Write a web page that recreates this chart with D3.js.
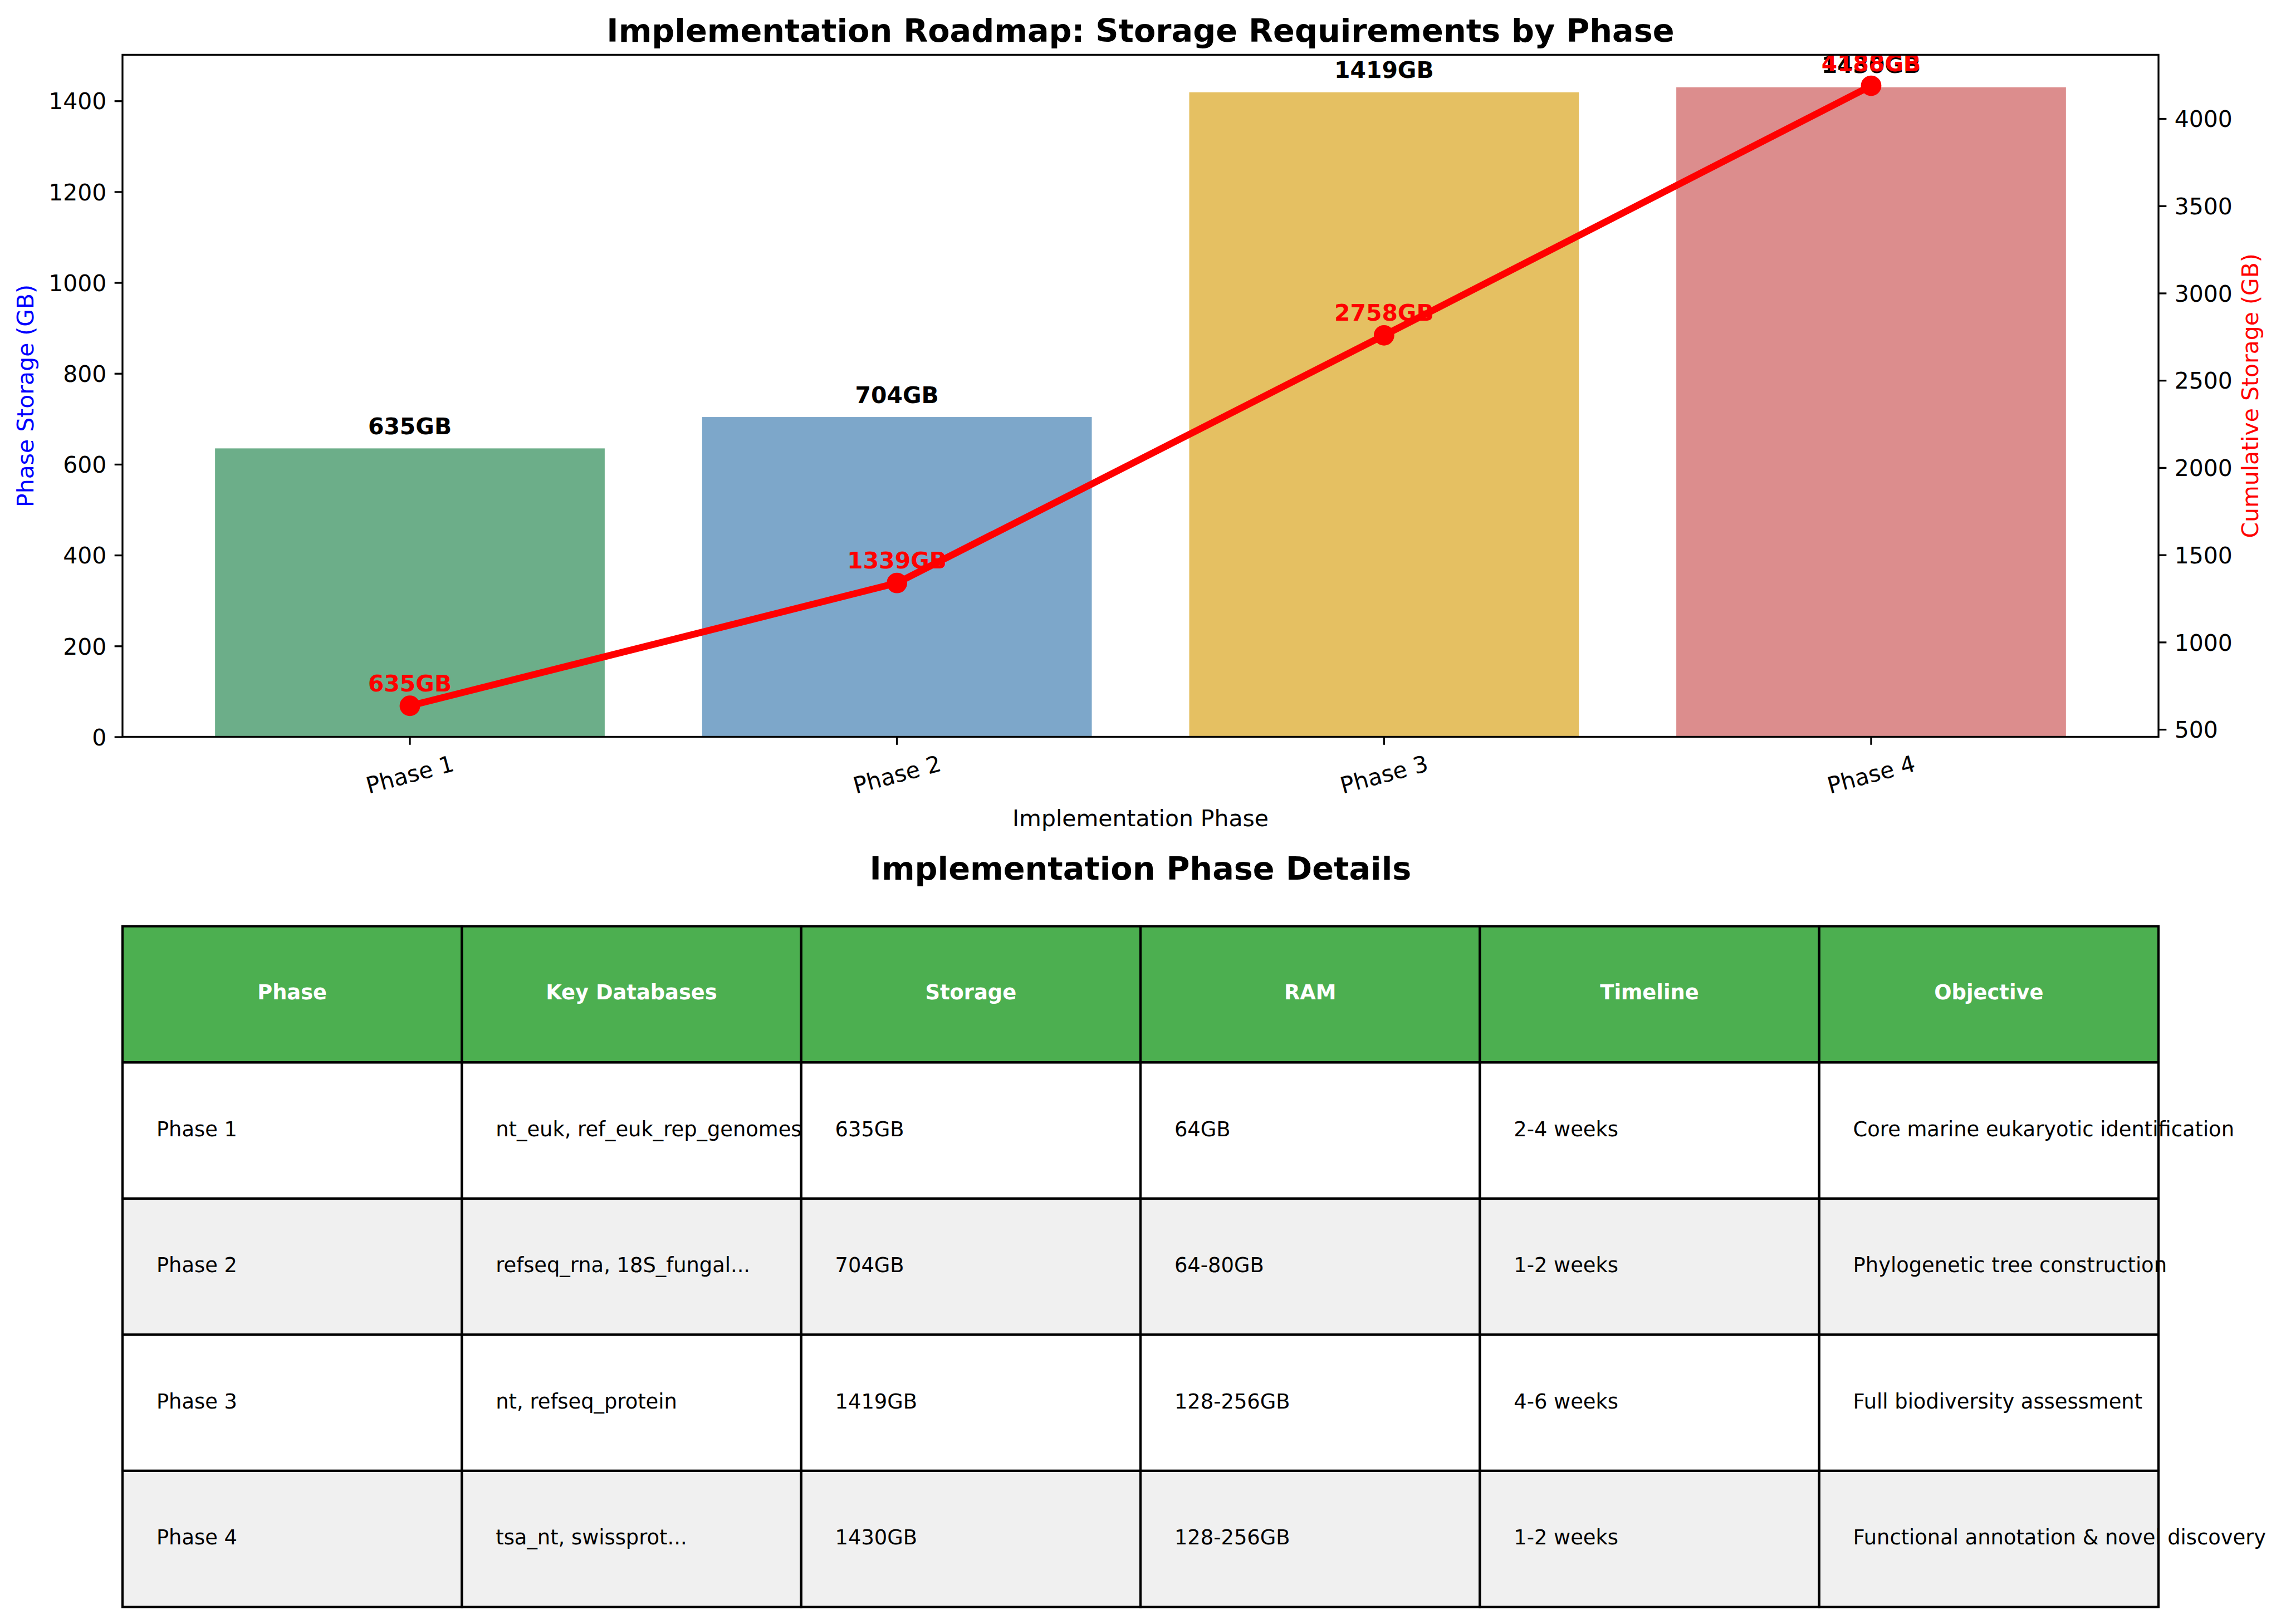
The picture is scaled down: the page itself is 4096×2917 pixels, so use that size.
<!DOCTYPE html>
<html>
<head>
<meta charset="utf-8">
<script src="https://cdn.jsdelivr.net/npm/d3@7"></script>
<style>
  html, body { margin: 0; padding: 0; background: #ffffff; }
  svg { display: block; }
  text { font-family: "DejaVu Sans", sans-serif; }
</style>
</head>
<body>
<script>
// ---------------- data ----------------
const phases = ["Phase 1", "Phase 2", "Phase 3", "Phase 4"];
const phaseStorage = [635, 704, 1419, 1430];
const cumulativeStorage = [635, 1339, 2758, 4188];
const barColors = ["#2E8B57", "#4682B4", "#DAA520", "#CD5C5C"];
const leftTicks = [0, 200, 400, 600, 800, 1000, 1200, 1400];
const rightTicks = [500, 1000, 1500, 2000, 2500, 3000, 3500, 4000];

const tableHeaders = ["Phase", "Key Databases", "Storage", "RAM", "Timeline", "Objective"];
const keyDatabases = ["nt_euk, ref_euk_rep_genomes", "refseq_rna, 18S_fungal...", "nt, refseq_protein", "tsa_nt, swissprot..."];
const storageLabels = ["635GB", "704GB", "1419GB", "1430GB"];
const ramLabels = ["64GB", "64-80GB", "128-256GB", "128-256GB"];
const timelines = ["2-4 weeks", "1-2 weeks", "4-6 weeks", "1-2 weeks"];
const objectives = ["Core marine eukaryotic identification", "Phylogenetic tree construction", "Full biodiversity assessment", "Functional annotation & novel discovery"];

// ---------------- layout (reference pixel units) ----------------
const W = 4171, H = 2970;
const PT = 300 / 72;
const fs10 = 10 * PT, fs14 = 14 * PT, fs9 = 9 * PT;
const axL = 224, axR = 3947, axT = 100, axB = 1347.5;
const tickLen = 3.5 * PT, tickPad = 3.5 * PT, spineW = 0.8 * PT;

const svg = d3.select("body").append("svg")
  .attr("width", 4096).attr("height", 2917)
  .attr("viewBox", `0 0 ${W} ${H}`);
svg.append("rect").attr("width", W).attr("height", H).attr("fill", "#fff");

// scales
const x = d3.scaleBand().domain(phases).range([axL, axR]).paddingInner(0.2).paddingOuter(0.19);
const yL = d3.scaleLinear().domain([0, 1501.5]).range([axB, axT]);
const cMin = d3.min(cumulativeStorage), cMax = d3.max(cumulativeStorage);
const cPad = (cMax - cMin) * 0.05;
const yR = d3.scaleLinear().domain([cMin - cPad, cMax + cPad]).range([axB, axT]);

// bars
const data = phases.map((p, i) => ({ p, v: phaseStorage[i], c: cumulativeStorage[i], col: barColors[i] }));
svg.append("g").selectAll("rect").data(data).join("rect")
  .attr("x", d => x(d.p)).attr("width", x.bandwidth())
  .attr("y", d => yL(d.v)).attr("height", d => yL(0) - yL(d.v))
  .attr("fill", d => d.col).attr("fill-opacity", 0.7);

// bar labels
svg.append("g").selectAll("text").data(data).join("text")
  .attr("x", d => x(d.p) + x.bandwidth() / 2)
  .attr("y", d => yL(d.v) - 26)
  .attr("text-anchor", "middle").attr("font-size", fs10).attr("font-weight", "bold")
  .attr("fill", "#000").text(d => d.v + "GB");

// left axis
const gL = svg.append("g").attr("transform", `translate(${axL},0)`)
  .call(d3.axisLeft(yL).tickValues(leftTicks).tickSize(tickLen).tickPadding(tickPad).tickFormat(d3.format("d")));
gL.select(".domain").remove();
gL.selectAll(".tick line").attr("stroke", "#000").attr("stroke-width", spineW);
gL.selectAll(".tick text").attr("font-size", fs10).attr("fill", "#000")
  .attr("font-family", "DejaVu Sans").attr("dy", "0.36em");

// x axis
const gX = svg.append("g").attr("transform", `translate(0,${axB})`)
  .call(d3.axisBottom(x).tickSize(tickLen).tickFormat(""));
gX.select(".domain").remove();
gX.selectAll(".tick line").attr("stroke", "#000").attr("stroke-width", spineW);
svg.append("g").selectAll("g").data(phases).join("g")
  .attr("transform", d => `translate(${x(d) + x.bandwidth() / 2},1416) rotate(-15)`)
  .append("text").attr("text-anchor", "middle").attr("dy", "0.36em")
  .attr("font-size", fs10).attr("fill", "#000").text(d => d);

// right axis
const gR = svg.append("g").attr("transform", `translate(${axR},0)`)
  .call(d3.axisRight(yR).tickValues(rightTicks).tickSize(tickLen).tickPadding(tickPad).tickFormat(d3.format("d")));
gR.select(".domain").remove();
gR.selectAll(".tick line").attr("stroke", "#000").attr("stroke-width", spineW);
gR.selectAll(".tick text").attr("font-size", fs10).attr("fill", "#000")
  .attr("font-family", "DejaVu Sans").attr("dy", "0.36em");

// cumulative line
const line = d3.line().x(d => x(d.p) + x.bandwidth() / 2).y(d => yR(d.c));
svg.append("path").datum(data).attr("d", line)
  .attr("fill", "none").attr("stroke", "#ff0000").attr("stroke-width", 3 * PT)
  .attr("stroke-linejoin", "round").attr("stroke-linecap", "butt");
svg.append("g").selectAll("circle").data(data).join("circle")
  .attr("cx", d => x(d.p) + x.bandwidth() / 2).attr("cy", d => yR(d.c))
  .attr("r", 4 * PT).attr("fill", "#ff0000").attr("stroke", "#ff0000").attr("stroke-width", PT);
svg.append("g").selectAll("text").data(data).join("text")
  .attr("x", d => x(d.p) + x.bandwidth() / 2)
  .attr("y", d => yR(d.c) - 26.3)
  .attr("text-anchor", "middle").attr("font-size", fs10).attr("font-weight", "bold")
  .attr("fill", "#ff0000").text(d => d.c + "GB");

// spines
svg.append("rect").attr("x", axL).attr("y", axT).attr("width", axR - axL).attr("height", axB - axT)
  .attr("fill", "none").attr("stroke", "#000").attr("stroke-width", spineW);

// axis labels & title
svg.append("text").attr("transform", `translate(61.5,${(axT + axB) / 2}) rotate(-90)`)
  .attr("text-anchor", "middle").attr("font-size", fs10).attr("fill", "#0000ff").text("Phase Storage (GB)");
svg.append("text").attr("transform", `translate(4129.5,${(axT + axB) / 2}) rotate(-90)`)
  .attr("text-anchor", "middle").attr("font-size", fs10).attr("fill", "#ff0000").text("Cumulative Storage (GB)");
svg.append("text").attr("x", (axL + axR) / 2).attr("y", 1510.5)
  .attr("text-anchor", "middle").attr("font-size", fs10).attr("fill", "#000").text("Implementation Phase");
svg.append("text").attr("x", (axL + axR) / 2).attr("y", 76.5)
  .attr("text-anchor", "middle").attr("font-size", fs14).attr("font-weight", "bold").attr("fill", "#000")
  .text("Implementation Roadmap: Storage Requirements by Phase");

// ---------------- table ----------------
svg.append("text").attr("x", (axL + axR) / 2).attr("y", 1609)
  .attr("text-anchor", "middle").attr("font-size", fs14).attr("font-weight", "bold").attr("fill", "#000")
  .text("Implementation Phase Details");

const rows = phases.map((p, i) => [p, keyDatabases[i], storageLabels[i], ramLabels[i], timelines[i], objectives[i]]);
const tT = 1694, tB = 2939;
const colX = d3.scaleBand().domain(d3.range(tableHeaders.length)).range([axL, axR]);
const rowY = d3.scaleBand().domain(d3.range(rows.length + 1)).range([tT, tB]);
const cw = colX.bandwidth(), rh = rowY.bandwidth();
const tg = svg.append("g");

// fills
tableHeaders.forEach((h, j) => {
  tg.append("rect").attr("x", colX(j)).attr("y", rowY(0)).attr("width", cw).attr("height", rh).attr("fill", "#4CAF50");
});
rows.forEach((r, i) => r.forEach((c, j) => {
  tg.append("rect").attr("x", colX(j)).attr("y", rowY(i + 1)).attr("width", cw).attr("height", rh)
    .attr("fill", i % 2 === 1 ? "#f0f0f0" : "#ffffff");
}));
// texts
tableHeaders.forEach((h, j) => {
  tg.append("text").attr("x", colX(j) + cw / 2).attr("y", rowY(0) + rh / 2 + 9.5)
    .attr("text-anchor", "middle").attr("font-size", fs9).attr("font-weight", "bold").attr("fill", "#ffffff").text(h);
});
rows.forEach((r, i) => r.forEach((c, j) => {
  tg.append("text").attr("x", colX(j) + cw * 0.1).attr("y", rowY(i + 1) + rh / 2 + 10.5)
    .attr("font-size", fs9).attr("fill", "#000").text(c);
}));
// borders
for (let i = 0; i <= rows.length; i++) for (let j = 0; j < tableHeaders.length; j++) {
  tg.append("rect").attr("x", colX(j)).attr("y", rowY(i)).attr("width", cw).attr("height", rh)
    .attr("fill", "none").attr("stroke", "#000").attr("stroke-width", PT);
}
</script>
</body>
</html>
